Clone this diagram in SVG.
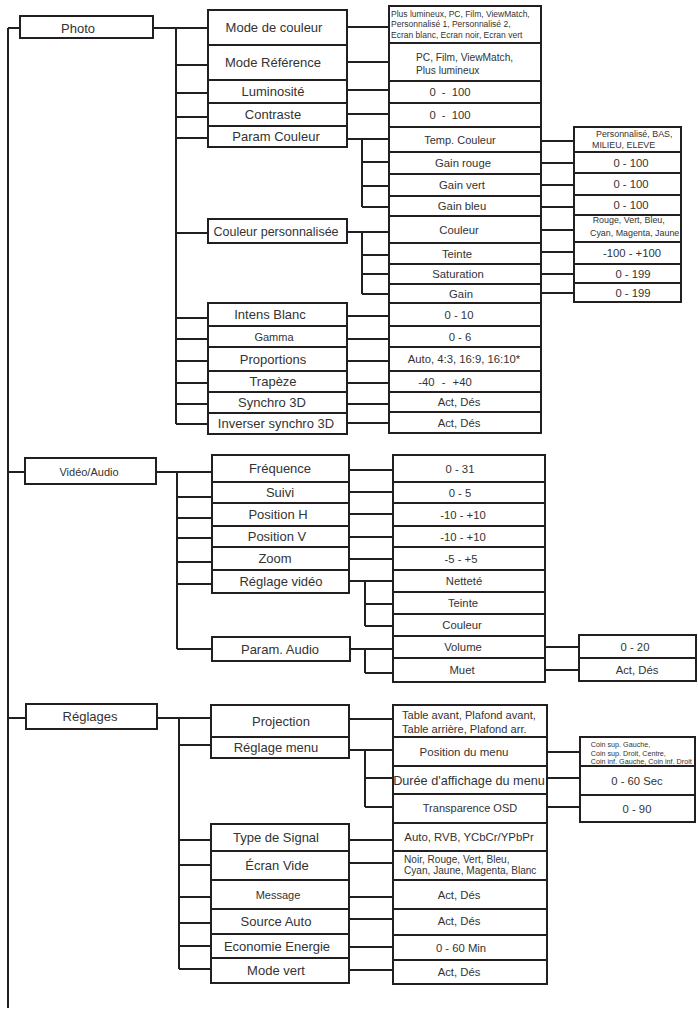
<svg xmlns="http://www.w3.org/2000/svg" width="698" height="1012" viewBox="0 0 698 1012">
<style>
.b{fill:#fff;stroke:#231f20;stroke-width:2}
.c{fill:none;stroke:#231f20;stroke-width:2}
text{font-family:"Liberation Sans",Arial,sans-serif;fill:#333;text-anchor:middle}
.l{text-anchor:start}
.f13{font-size:13px}.f12{font-size:12.5px}.f11{font-size:11.3px}.f10{font-size:10.2px}.f9{font-size:8.9px}.f8{font-size:8.5px}.f7{font-size:7.2px}
.w{word-spacing:3px}
</style>
<rect width="698" height="1012" fill="#fff"/>
<g id="connectors">
<path class="c" d="M8 28V1008M8 28H20M8 472H25M8 718H26"/>
<path class="c" d="M153 28H208M176 28V424M176 65H208M176 93H208M176 117H208M176 138H208M176 233H208M176 318H208M176 339H208M176 361H208M176 383H208M176 404H208M176 424H208"/>
<path class="c" d="M347 27H389M347 62H389M347 90H389M347 114H389M347 139H389M362 139V207M362 162H389M362 186H389M362 207H389M347 232H389M362 232V294M362 255H389M362 274H389M362 294H389M347 316H389M347 339H389M347 361H389M347 383H389M347 404H389M347 423H389"/>
<path class="c" d="M541 141H574M541 163H574M541 185H574M541 207H574M541 230H574M541 252H574M541 274H574M541 293H574"/>
<path class="c" d="M156 472H212M177 472V649M177 497H212M177 518H212M177 538H212M177 562H212M177 584H212M177 649H212"/>
<path class="c" d="M349 470H393M349 492H393M349 514H393M349 537H393M349 559H393M349 581H393M365 581V626M365 604H393M365 626H393M350 649H393M365 649V673M365 673H393M545 647H579M545 670H579"/>
<path class="c" d="M157 718H211M179 718V969M179 745H211M179 840H211M179 865H211M179 897H211M179 923H211M179 946H211M179 969H211"/>
<path class="c" d="M349 719H393M349 750H393M365 750V807M365 778H393M365 807H393M349 840H393M349 863H393M349 897H393M349 919H393M349 947H393M349 970H393M547 752H580M547 778H580M547 807H580"/>
</g>
<g id="photo"><rect class="b" x="20" y="16" width="133" height="22"/><text class="f13" x="78" y="32.5">Photo</text></g>
<g id="mode-couleur"><rect class="b" x="208" y="10" width="139" height="35"/><text class="f13" x="274" y="32">Mode de couleur</text></g>
<g id="mode-reference"><rect class="b" x="208" y="45" width="139" height="35"/><text class="f13" x="273" y="67">Mode Référence</text></g>
<g id="luminosite"><rect class="b" x="208" y="80" width="139" height="23"/><text class="f13" x="273" y="96">Luminosité</text></g>
<g id="contraste"><rect class="b" x="208" y="103" width="139" height="23"/><text class="f13" x="273" y="119">Contraste</text></g>
<g id="param-couleur"><rect class="b" x="208" y="126" width="139" height="21"/><text class="f13" x="276" y="141">Param Couleur</text></g>
<g id="couleur-perso"><rect class="b" x="208" y="219" width="139" height="24"/><text class="f12" x="276" y="235.5">Couleur personnalisée</text></g>
<g id="intens-blanc"><rect class="b" x="208" y="303" width="139" height="23"/><text class="f13" x="270" y="319">Intens Blanc</text></g>
<g id="gamma"><rect class="b" x="208" y="326" width="139" height="21"/><text style="font-size:11px" x="274" y="340.5">Gamma</text></g>
<g id="proportions"><rect class="b" x="208" y="347" width="139" height="24"/><text class="f13" x="273" y="363.5">Proportions</text></g>
<g id="trapeze"><rect class="b" x="208" y="371" width="139" height="21"/><text class="f13" x="273" y="386">Trapèze</text></g>
<g id="synchro-3d"><rect class="b" x="208" y="392" width="139" height="21"/><text class="f13" x="272" y="407">Synchro 3D</text></g>
<g id="inverser-synchro"><rect class="b" x="208" y="413" width="139" height="21"/><text class="f13" x="276" y="428">Inverser synchro 3D</text></g>
<g id="v-mode-couleur"><rect class="b" x="389" y="6" width="152" height="37"/>
<text class="f8 l" x="391" y="17">Plus lumineux, PC, Film, ViewMatch,</text>
<text class="f8 l" x="391" y="27.3">Personnalisé 1, Personnalisé 2,</text>
<text class="f8 l" x="391" y="38">Ecran blanc, Ecran noir, Ecran vert</text></g>
<g id="v-mode-reference"><rect class="b" x="389" y="43" width="152" height="38"/>
<text class="f10 l" x="416" y="60.7">PC, Film, ViewMatch,</text>
<text class="f10 l" x="416" y="73.7">Plus lumineux</text></g>
<g id="v-luminosite"><rect class="b" x="389" y="81" width="152" height="22"/><text class="f11 w" x="450" y="96">0 - 100</text></g>
<g id="v-contraste"><rect class="b" x="389" y="103" width="152" height="24"/><text class="f11 w" x="450" y="119">0 - 100</text></g>
<g id="temp-couleur"><rect class="b" x="389" y="127" width="152" height="25"/><text style="font-size:11px" x="460" y="143.5">Temp. Couleur</text></g>
<g id="gain-rouge"><rect class="b" x="389" y="152" width="152" height="22"/><text class="f11" x="463" y="167">Gain rouge</text></g>
<g id="gain-vert"><rect class="b" x="389" y="174" width="152" height="22"/><text class="f11" x="462" y="189">Gain vert</text></g>
<g id="gain-bleu"><rect class="b" x="389" y="196" width="152" height="20"/><text class="f11" x="462" y="210">Gain bleu</text></g>
<g id="couleur"><rect class="b" x="389" y="216" width="152" height="27"/><text class="f11" x="459" y="233.5">Couleur</text></g>
<g id="teinte"><rect class="b" x="389" y="243" width="152" height="21"/><text class="f11" x="457" y="257.5">Teinte</text></g>
<g id="saturation"><rect class="b" x="389" y="264" width="152" height="20"/><text class="f11" x="458" y="278">Saturation</text></g>
<g id="gain"><rect class="b" x="389" y="284" width="152" height="19"/><text class="f11" x="461" y="297.5">Gain</text></g>
<g id="v-intens"><rect class="b" x="389" y="303" width="152" height="23"/><text class="f11" x="459" y="318.5">0 - 10</text></g>
<g id="v-gamma"><rect class="b" x="389" y="326" width="152" height="21"/><text class="f11" x="460" y="340.5">0 - 6</text></g>
<g id="v-proportions"><rect class="b" x="389" y="347" width="152" height="24"/><text class="f11" x="464" y="363">Auto, 4:3, 16:9, 16:10*</text></g>
<g id="v-trapeze"><rect class="b" x="389" y="371" width="152" height="21"/><text class="f11" x="445" y="385.5" style="word-spacing:4px">-40 - +40</text></g>
<g id="v-synchro"><rect class="b" x="389" y="392" width="152" height="20"/><text class="f11" x="459" y="406">Act, Dés</text></g>
<g id="v-inverser"><rect class="b" x="389" y="412" width="152" height="21"/><text class="f11" x="459" y="426.5">Act, Dés</text></g>
<g id="v-temp"><rect class="b" x="574" y="127" width="107" height="25"/>
<text class="f9 l" x="596" y="136.5">Personnalisé, BAS,</text>
<text class="f9 l" x="592" y="147.5">MILIEU, ELEVE</text></g>
<g id="v-gain-rouge"><rect class="b" x="574" y="152" width="107" height="21"/><text class="f11" x="631" y="166.5">0 - 100</text></g>
<g id="v-gain-vert"><rect class="b" x="574" y="173" width="107" height="22"/><text class="f11" x="631" y="188">0 - 100</text></g>
<g id="v-gain-bleu"><rect class="b" x="574" y="195" width="107" height="20"/><text class="f11" x="631" y="209">0 - 100</text></g>
<g id="v-couleur"><rect class="b" x="574" y="215" width="107" height="27"/>
<text class="f9 l" x="592.7" y="223">Rouge, Vert, Bleu,</text>
<text class="f9 l" x="590" y="236">Cyan, Magenta, Jaune</text></g>
<g id="v-teinte"><rect class="b" x="574" y="242" width="107" height="22"/><text class="f11" x="632" y="257">-100 - +100</text></g>
<g id="v-saturation"><rect class="b" x="574" y="264" width="107" height="19"/><text class="f11" x="633" y="277.5">0 - 199</text></g>
<g id="v-gain"><rect class="b" x="574" y="283" width="107" height="19"/><text class="f11" x="633" y="296.5">0 - 199</text></g>

<g id="video-audio"><rect class="b" x="25" y="458" width="131" height="26"/><text style="font-size:11px" x="89" y="476.3">Vidéo/Audio</text></g>
<g id="frequence"><rect class="b" x="212" y="455" width="137" height="27"/><text class="f13" x="280" y="473">Fréquence</text></g>
<g id="suivi"><rect class="b" x="212" y="482" width="137" height="21"/><text class="f13" x="280" y="497">Suivi</text></g>
<g id="position-h"><rect class="b" x="212" y="503" width="137" height="23"/><text class="f13" x="278" y="519">Position H</text></g>
<g id="position-v"><rect class="b" x="212" y="526" width="137" height="21"/><text class="f13" x="277" y="541">Position V</text></g>
<g id="zoom"><rect class="b" x="212" y="547" width="137" height="23"/><text class="f13" x="275" y="563">Zoom</text></g>
<g id="reglage-video"><rect class="b" x="212" y="570" width="137" height="23"/><text class="f13" x="281" y="585.5">Réglage vidéo</text></g>
<g id="param-audio"><rect class="b" x="212" y="637" width="138" height="24"/><text class="f13" x="280" y="653.5">Param. Audio</text></g>
<g id="v-frequence"><rect class="b" x="393" y="455" width="152" height="27"/><text class="f11" x="460" y="472.5">0 - 31</text></g>
<g id="v-suivi"><rect class="b" x="393" y="482" width="152" height="21"/><text class="f11" x="460" y="496.5">0 - 5</text></g>
<g id="v-position-h"><rect class="b" x="393" y="503" width="152" height="23"/><text class="f11" x="463" y="518.5">-10 - +10</text></g>
<g id="v-position-v"><rect class="b" x="393" y="526" width="152" height="21"/><text class="f11" x="463" y="540.5">-10 - +10</text></g>
<g id="v-zoom"><rect class="b" x="393" y="547" width="152" height="23"/><text class="f11" x="461" y="562.5">-5 - +5</text></g>
<g id="nettete"><rect class="b" x="393" y="570" width="152" height="22"/><text class="f11" x="464" y="585">Netteté</text></g>
<g id="teinte-video"><rect class="b" x="393" y="592" width="152" height="22"/><text class="f11" x="463" y="607">Teinte</text></g>
<g id="couleur-video"><rect class="b" x="393" y="614" width="152" height="22"/><text class="f11" x="462" y="629">Couleur</text></g>
<g id="volume"><rect class="b" x="393" y="636" width="152" height="22"/><text class="f11" x="463" y="651">Volume</text></g>
<g id="muet"><rect class="b" x="393" y="658" width="152" height="24"/><text class="f11" x="462" y="674">Muet</text></g>
<g id="v-volume"><rect class="b" x="579" y="635" width="117" height="23"/><text class="f11" x="635" y="650.5">0 - 20</text></g>
<g id="v-muet"><rect class="b" x="579" y="658" width="117" height="23"/><text class="f11" x="637" y="673.5">Act, Dés</text></g>

<g id="reglages"><rect class="b" x="26" y="704" width="131" height="25"/><text class="f13" x="90" y="720.7">Réglages</text></g>
<g id="projection"><rect class="b" x="211" y="705" width="138" height="32"/><text class="f13" x="281" y="725.5">Projection</text></g>
<g id="reglage-menu"><rect class="b" x="211" y="737" width="138" height="21"/><text class="f13" x="276" y="752">Réglage menu</text></g>
<g id="type-signal"><rect class="b" x="211" y="824" width="138" height="27"/><text class="f13" x="276" y="841.5">Type de Signal</text></g>
<g id="ecran-vide"><rect class="b" x="211" y="851" width="138" height="29"/><text class="f13" x="277" y="870">Écran Vide</text></g>
<g id="message"><rect class="b" x="211" y="880" width="138" height="29"/><text style="font-size:11px" x="278" y="898.5">Message</text></g>
<g id="source-auto"><rect class="b" x="211" y="909" width="138" height="25"/><text class="f13" x="276" y="926">Source Auto</text></g>
<g id="economie-energie"><rect class="b" x="211" y="934" width="138" height="24"/><text class="f13" x="277" y="950.5">Economie Energie</text></g>
<g id="mode-vert"><rect class="b" x="211" y="958" width="138" height="25"/><text class="f13" x="276" y="975">Mode vert</text></g>
<g id="v-projection"><rect class="b" x="393" y="705" width="154" height="32"/>
<text style="font-size:11.1px" class="l" x="402" y="719">Table avant, Plafond avant,</text>
<text style="font-size:11.1px" class="l" x="402" y="733">Table arrière, Plafond arr.</text></g>
<g id="position-menu"><rect class="b" x="393" y="737" width="154" height="29"/><text style="font-size:11.5px" x="464" y="755.5">Position du menu</text></g>
<g id="duree-menu"><rect class="b" x="393" y="766" width="154" height="28"/><text style="font-size:12.7px" x="469" y="784.5">Durée d'affichage du menu</text></g>
<g id="transparence-osd"><rect class="b" x="393" y="794" width="154" height="29"/><text style="font-size:11px" x="470" y="811.5">Transparence OSD</text></g>
<g id="v-type-signal"><rect class="b" x="393" y="823" width="154" height="28"/><text style="font-size:11.4px" x="469" y="841">Auto, RVB, YCbCr/YPbPr</text></g>
<g id="v-ecran-vide"><rect class="b" x="393" y="851" width="154" height="29"/>
<text style="font-size:10.1px" class="l" x="404" y="862.5">Noir, Rouge, Vert, Bleu,</text>
<text style="font-size:10.1px" class="l" x="404" y="873.5">Cyan, Jaune, Magenta, Blanc</text></g>
<g id="v-message"><rect class="b" x="393" y="880" width="154" height="29"/><text class="f11" x="459" y="899">Act, Dés</text></g>
<g id="v-source-auto"><rect class="b" x="393" y="909" width="154" height="26"/><text class="f11" x="459" y="925">Act, Dés</text></g>
<g id="v-economie"><rect class="b" x="393" y="935" width="154" height="25"/><text class="f11" x="461" y="951.5">0 - 60 Min</text></g>
<g id="v-mode-vert"><rect class="b" x="393" y="960" width="154" height="24"/><text class="f11" x="459" y="976">Act, Dés</text></g>
<g id="v-position-menu"><rect class="b" x="580" y="737" width="115" height="29"/>
<text class="f7 l" x="590.7" y="746.5">Coin sup. Gauche,</text>
<text class="f7 l" x="590.7" y="756">Coin sup. Droit, Centre,</text>
<text class="f7 l" x="590.7" y="764.3">Coin inf. Gauche, Coin inf. Droit</text></g>
<g id="v-duree"><rect class="b" x="580" y="766" width="115" height="29"/><text class="f11" x="637" y="785">0 - 60 Sec</text></g>
<g id="v-transparence"><rect class="b" x="580" y="795" width="115" height="27"/><text class="f11" x="637" y="812.5">0 - 90</text></g>
</svg>
